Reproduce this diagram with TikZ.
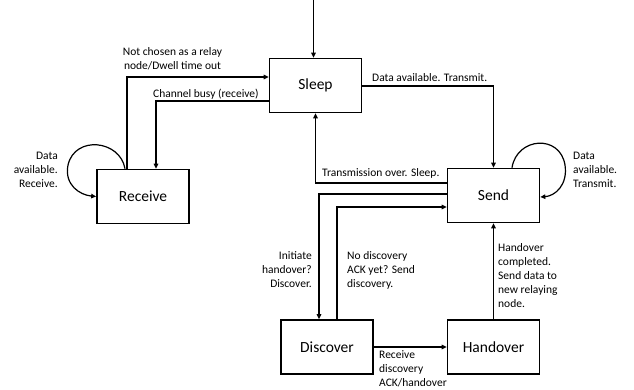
\documentclass[tikz,border=0pt]{standalone}
\usepackage{fontspec}
\setmainfont{Carlito}
\usetikzlibrary{arrows.meta}
\begin{document}
\begin{tikzpicture}[x=1pt,y=-1pt,
  state/.style={draw, line width=1.7pt, minimum width=92pt, minimum height=54pt, inner sep=0pt, font=\fontsize{15.5}{17}\selectfont},
  conn/.style={line width=1.2pt, -{Triangle[length=5pt,width=4.5pt]}},
  lbl/.style={inner sep=0pt, font=\fontsize{11.5}{14}\selectfont}]
\useasboundingbox[fill=white] (0,0) rectangle (634,389);
\node[state] (sleep) at (315.5,85.5) {Sleep};
\node[state] (receive) at (143,196.5) {Receive};
\node[state] (send) at (493.5,195.5) {Send};
\node[state] (discover) at (327,347) {Discover};
\node[state] (handover) at (493.5,347) {Handover};
\coordinate (start) at (313.5,0);
% connectors
\draw[conn] (start) -- (start |- sleep.north);
\draw[conn] ([xshift=-16pt]receive.north) |- ([yshift=8.5pt]sleep.west);
\draw[conn] ([yshift=-15.5pt]sleep.west) -| ([xshift=13pt]receive.north);
\draw[conn] ([yshift=-0.5pt]sleep.east) -| (send.north);
\draw[conn] ([yshift=12.5pt]send.west) -| (sleep.south);
\draw[conn] ([yshift=1.5pt]send.west) -| ([xshift=-8pt]discover.north);
\draw[conn] ([xshift=10pt]discover.north) |- ([yshift=-11.5pt]send.west);
\draw[conn] (discover.east) -- (handover.west);
\draw[conn] (handover.north) -- (send.south);
% self loops
\draw[conn] ([xshift=-18pt]receive.north) .. controls (120,140) and (75,135) .. (68,165) .. controls (64,185) and (80,195) .. (receive.west);
\draw[conn] ([xshift=18.5pt]send.north) .. controls (517,137) and (560,134) .. (565,165) .. controls (568,185) and (555,196) .. ([yshift=-1.5pt]send.east);
% labels
\node[lbl, align=center] (l1) at (172.5,59) {Not chosen as a relay\\node/Dwell time out};
\node[lbl, anchor=west] (l2) at (153,94) {Channel busy (receive)};
\node[lbl, anchor=east, align=right] (l3) at (58,169.5) {Data\\available.\\Receive.};
\node[lbl, anchor=west] (l4) at (372,78) {Data available. Transmit.};
\node[lbl, anchor=west] (l5) at (322,173) {Transmission over. Sleep.};
\node[lbl, anchor=west, align=left] (l6) at (573,169.5) {Data\\available.\\Transmit.};
\node[lbl, anchor=east, align=right] (l7) at (312,270) {Initiate\\handover?\\Discover.};
\node[lbl, anchor=west, align=left] (l8) at (347,270) {No discovery\\ACK yet? Send\\discovery.};
\node[lbl, anchor=west, align=left] (l9) at (379,368.5) {Receive\\discovery\\ACK/handover};
\node[lbl, anchor=west, align=left] (l10) at (498,275.5) {Handover\\completed.\\Send data to\\new relaying\\node.};
\end{tikzpicture}
\end{document}
